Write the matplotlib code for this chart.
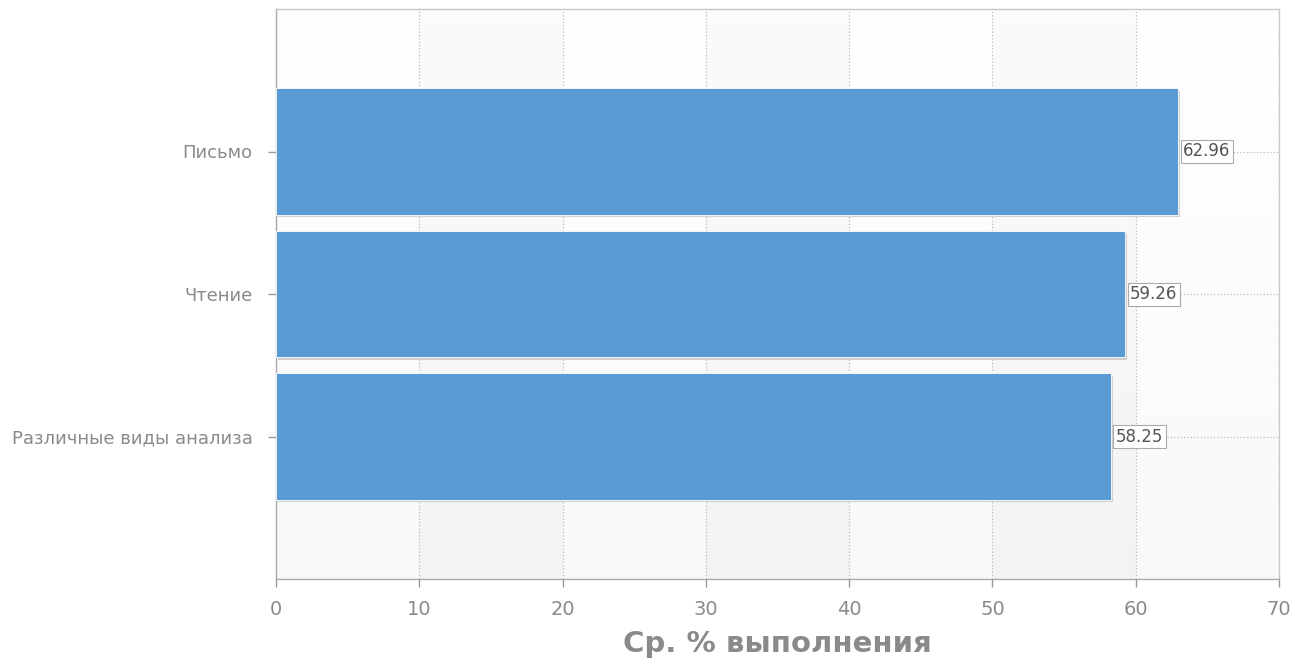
import matplotlib
matplotlib.use("Agg")
import matplotlib.pyplot as plt
import numpy as np

categories = ["Различные виды анализа", "Чтение", "Письмо"]
values = [58.25, 59.26, 62.96]
xticks = [0, 10, 20, 30, 40, 50, 60, 70]

bar_color = "#5b9bd5"
text_gray = "#8a8a8a"

fig = plt.figure(figsize=(13.03, 6.63), dpi=100)
ax = fig.add_axes([276 / 1303, 1 - 579 / 663, (1279 - 276) / 1303, (579 - 9) / 663])

# background bands, light at the top, slightly grey at the bottom
grad = np.linspace(0, 1, 256).reshape(-1, 1)
for i in range(len(xticks) - 1):
    if i % 2 == 1:
        top, bot = 0.985, 0.955
    else:
        top, bot = 1.0, 0.978
    shade = top + (bot - top) * grad
    img = np.dstack([shade, shade, shade])
    ax.imshow(img, extent=(xticks[i], xticks[i + 1], -1, 3), origin="upper",
              aspect="auto", zorder=0, interpolation="bilinear")

y = np.arange(len(categories))
# shadow
ax.barh(y - 0.02, values, height=0.885, left=0.15, color="#d0d0d0", zorder=2)
ax.barh(y, values, height=0.885, color=bar_color, zorder=3,
        edgecolor="#ffffff", linewidth=0.6)

for yi, v in zip(y, values):
    ax.text(v + 0.35, yi, f"{v:.2f}", va="center", ha="left", fontsize=12,
            color="#555555", zorder=5,
            bbox=dict(boxstyle="square,pad=0.15", fc="white", ec="#aaaaaa", lw=0.8))

ax.set_xlim(0, 70)
ax.set_ylim(-1, 3)
ax.set_xticks(xticks)
ax.set_yticks(y)
ax.set_yticklabels(categories)

ax.grid(True, axis="x", linestyle=":", color="#bbbbbb", linewidth=0.9, zorder=1)
ax.grid(True, axis="y", linestyle=":", color="#bbbbbb", linewidth=0.9, zorder=1)
ax.set_axisbelow(True)

for s in ax.spines.values():
    s.set_color("#c8c8c8")
    s.set_linewidth(1.0)
ax.spines["left"].set_color("#aaaaaa")
ax.spines["bottom"].set_color("#aaaaaa")

ax.tick_params(axis="x", colors="#999999", labelcolor=text_gray, labelsize=14,
               length=6, width=1, pad=9)
ax.tick_params(axis="y", colors="#999999", labelcolor=text_gray, labelsize=13,
               length=6, width=1, pad=11)

ax.set_xlabel("Ср. % выполнения", fontsize=21, fontweight="bold",
              color=text_gray, labelpad=8)

fig.savefig("out.png", dpi=100)
